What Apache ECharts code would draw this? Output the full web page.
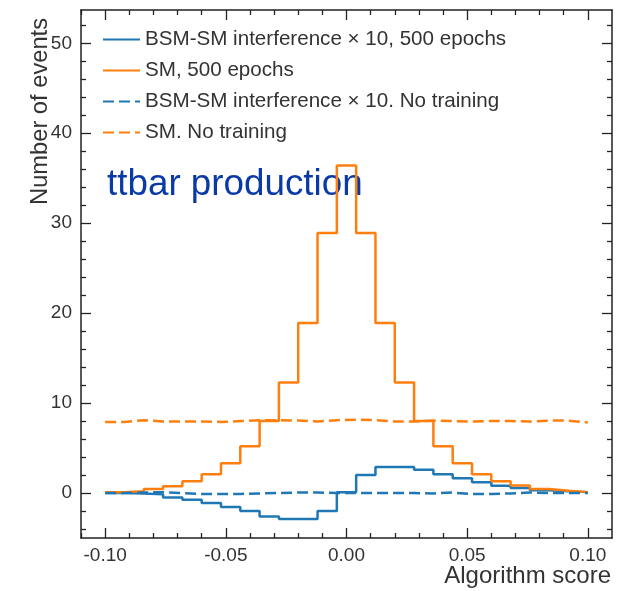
<!DOCTYPE html>
<html>
<head>
<meta charset="utf-8">
<script src="https://cdn.jsdelivr.net/npm/echarts@6/dist/echarts.min.js"></script>
<style>
  html, body { margin: 0; padding: 0; background: #fff; }
  #chart { width: 633px; height: 591px; }
</style>
</head>
<body>
<div id="chart"></div>
<script>
// bin edges of the score histogram (25 bins)
const binEdges = [
  -0.1, -0.092, -0.084, -0.076, -0.068, -0.06, -0.052, -0.044, -0.036, -0.028,
  -0.02, -0.012, -0.004, 0.004, 0.012, 0.02, 0.028, 0.036, 0.044, 0.052,
  0.06, 0.068, 0.076, 0.084, 0.092, 0.1
];

// BSM-SM interference x 10, 500 epochs
const bsmTrained = [
  0.0, -0.05, -0.15, -0.5, -0.75, -1.1, -1.55, -2.0, -2.6, -2.9,
  -2.9, -2.0, 0.1, 2.0, 2.9, 2.9, 2.6, 2.1, 1.65, 1.2,
  0.8, 0.55, 0.3, 0.2, 0.1
];
// SM, 500 epochs
const smTrained = [
  0.1, 0.2, 0.45, 0.75, 1.3, 2.1, 3.3, 5.2, 8.0, 12.3,
  18.9, 28.9, 36.4, 28.9, 18.9, 12.3, 8.0, 5.2, 3.3, 2.1,
  1.3, 0.85, 0.45, 0.25, 0.1
];
// BSM-SM interference x 10, no training
const bsmUntrained = [
  0.0, 0.05, 0.1, 0.0, -0.1, -0.1, -0.1, -0.05, 0.0, 0.05,
  0.05, 0.0, 0.0, 0.0, 0.0, 0.0, -0.05, 0.05, -0.1, -0.1,
  -0.05, 0.05, 0.0, 0.0, 0.0
];
// SM, no training
const smUntrained = [
  7.9, 8.1, 7.95, 7.95, 7.95, 7.9, 8.0, 8.1, 8.1, 8.05,
  7.95, 8.1, 8.15, 8.1, 7.95, 7.95, 8.05, 8.0, 7.95, 8.0,
  8.0, 7.95, 8.05, 8.05, 7.85
];

const xMajor = [-0.1, -0.05, 0, 0.05, 0.1];
const xMinor = [-0.11, -0.09, -0.08, -0.07, -0.06, -0.04, -0.03, -0.02, -0.01,
  0.01, 0.02, 0.03, 0.04, 0.06, 0.07, 0.08, 0.09];
const yMajor = [0, 10, 20, 30, 40, 50];
const yMinor = [-4, -2, 2, 4, 6, 8, 12, 14, 16, 18, 22, 24, 26, 28, 32, 34, 36, 38,
  42, 44, 46, 48, 52];

const BLUE = '#1f77b4';
const ORANGE = '#ff7f0e';
const FONT = 'Liberation Sans, Arial, sans-serif';

// step histogram: hold each bin value until the next edge
const toSteps = (vals) => {
  const pts = vals.map((v, i) => [binEdges[i], v]);
  pts.push([binEdges[binEdges.length - 1], vals[vals.length - 1]]);
  return pts;
};

const mkX = (position, ticks, len, labels, line) => ({
  type: 'value',
  position,
  min: -0.11,
  max: 0.11,
  axisLine: { show: line, onZero: false, lineStyle: { color: '#222', width: 1.5 } },
  axisTick: { show: true, inside: true, length: len, customValues: ticks,
    lineStyle: { color: '#222', width: 1.3 } },
  axisLabel: labels
    ? { show: true, customValues: ticks, margin: 8, color: '#333', fontSize: 19,
        fontFamily: FONT, formatter: (v) => v.toFixed(2) }
    : { show: false },
  splitLine: { show: false }
});

const mkY = (position, ticks, len, labels, line) => ({
  type: 'value',
  position,
  min: -5,
  max: 53.7,
  axisLine: { show: line, onZero: false, lineStyle: { color: '#222', width: 1.5 } },
  axisTick: { show: true, inside: true, length: len, customValues: ticks,
    lineStyle: { color: '#222', width: 1.3 } },
  axisLabel: labels
    ? { show: true, customValues: ticks, margin: 9, color: '#333', fontSize: 19,
        fontFamily: FONT }
    : { show: false },
  splitLine: { show: false }
});

const stepSeries = (name, vals, color, dashed) => ({
  name,
  type: 'line',
  step: 'end',
  showSymbol: false,
  symbol: 'none',
  xAxisIndex: 0,
  yAxisIndex: 0,
  data: toSteps(vals),
  lineStyle: { color, width: 2.5, type: dashed ? [11, 5] : 'solid' },
  itemStyle: { color },
  animation: false
});

const chart = echarts.init(document.getElementById('chart'));
chart.setOption({
  backgroundColor: '#fff',
  animation: false,
  grid: { left: 81, right: 21, top: 10, bottom: 53, containLabel: false },
  xAxis: [
    mkX('bottom', xMajor, 10, true, true),
    mkX('bottom', xMinor, 5, false, false),
    mkX('top', xMajor, 10, false, true),
    mkX('top', xMinor, 5, false, false)
  ],
  yAxis: [
    mkY('left', yMajor, 10, true, true),
    mkY('left', yMinor, 5, false, false),
    mkY('right', yMajor, 10, false, true),
    mkY('right', yMinor, 5, false, false)
  ],
  legend: {
    orient: 'vertical',
    left: 97,
    top: 24,
    itemWidth: 37,
    itemHeight: 14,
    itemGap: 10,
    itemTextGap: 15,
    itemStyle: { color: 'rgba(0,0,0,0)', borderColor: 'rgba(0,0,0,0)', borderWidth: 0 },
    textStyle: { fontSize: 20.6, fontFamily: FONT, color: '#333', lineHeight: 21 },
    data: [
      'BSM-SM interference × 10, 500 epochs',
      'SM, 500 epochs',
      'BSM-SM interference × 10. No training',
      'SM. No training'
    ]
  },
  graphic: [
    {
      type: 'text',
      left: 107,
      top: 166,
      style: { text: 'ttbar production', fill: '#0a3aa6', fontSize: 36.8, fontFamily: FONT }
    },
    {
      type: 'text',
      right: 22,
      top: 564,
      style: { text: 'Algorithm score', fill: '#333', fontSize: 24, fontFamily: FONT }
    },
    {
      type: 'text',
      x: 40,
      y: 18,
      rotation: Math.PI / 2,
      style: { text: 'Number of events', fill: '#333', fontSize: 23.7, fontFamily: FONT,
        align: 'right', verticalAlign: 'middle' }
    }
  ],
  series: [
    stepSeries('BSM-SM interference × 10, 500 epochs', bsmTrained, BLUE, false),
    stepSeries('SM, 500 epochs', smTrained, ORANGE, false),
    stepSeries('BSM-SM interference × 10. No training', bsmUntrained, BLUE, true),
    stepSeries('SM. No training', smUntrained, ORANGE, true)
  ]
});
</script>
</body>
</html>
